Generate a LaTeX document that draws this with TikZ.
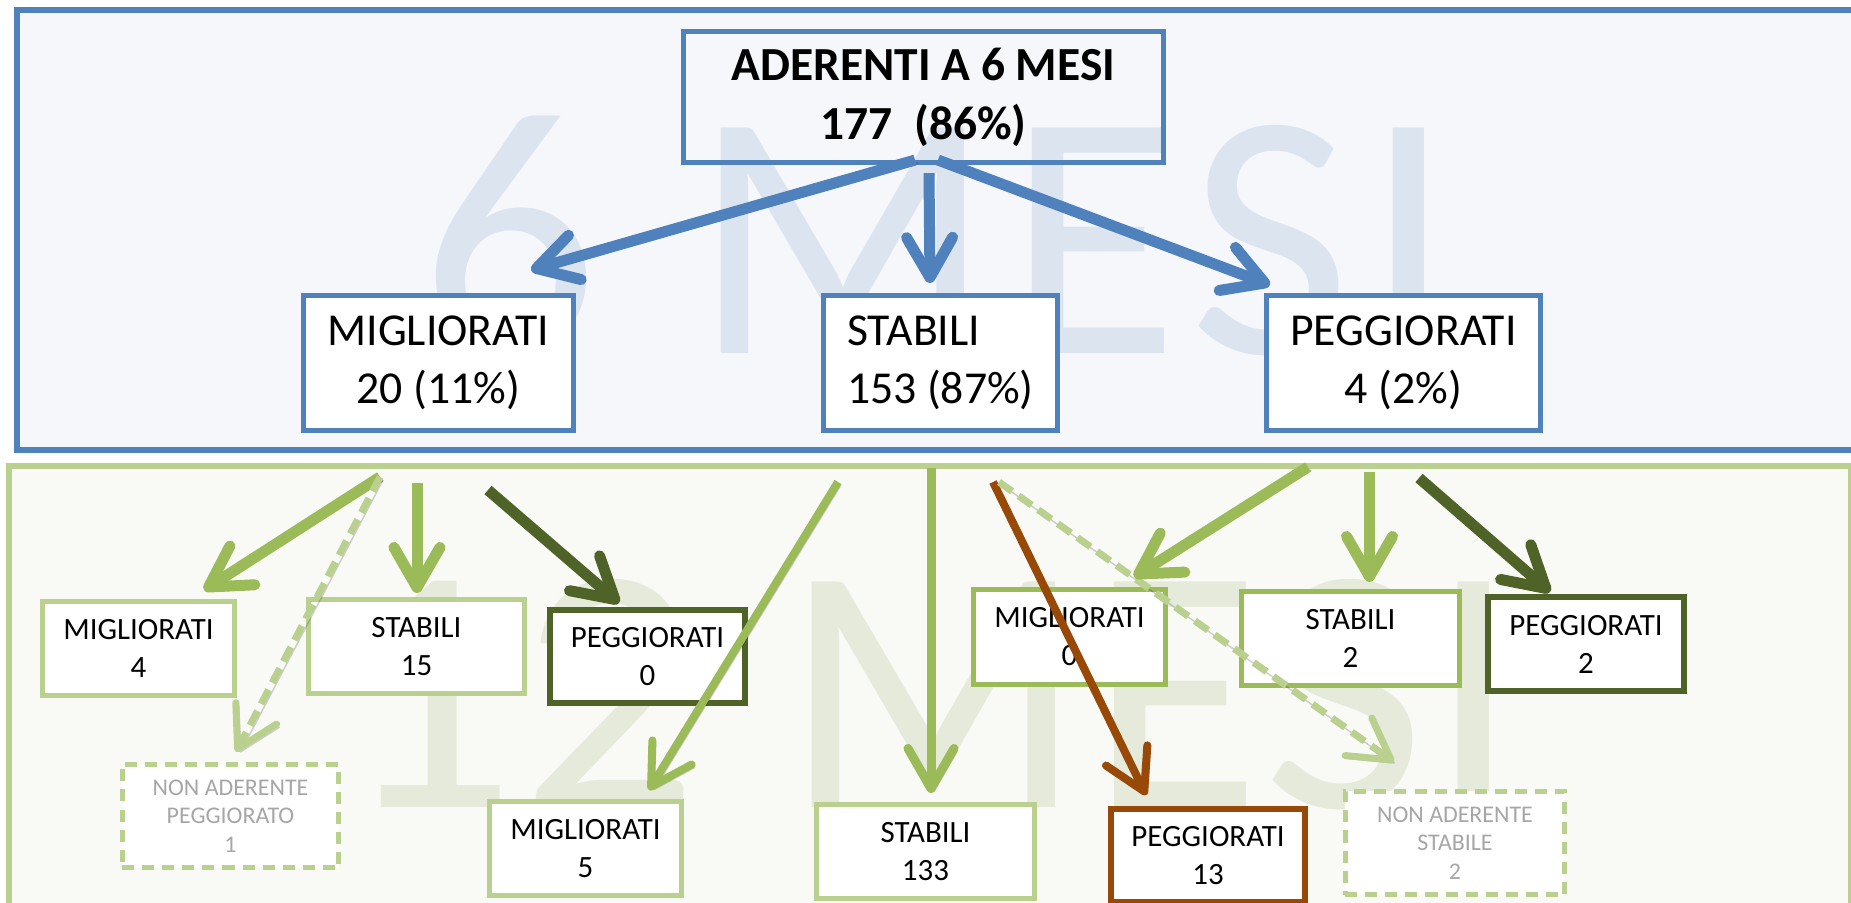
\documentclass[tikz,border=0pt]{standalone}
\usepackage{fontspec}
\setmainfont{Carlito}
\usetikzlibrary{arrows.meta,calc}
\definecolor{cblue}{HTML}{4F81BD}
\definecolor{cbluebg}{HTML}{F5F7FB}
\definecolor{cbluewm}{HTML}{DCE4EF}
\definecolor{cgreen}{HTML}{9BBB59}
\definecolor{clight}{HTML}{B9D08E}
\definecolor{cgreenbg}{HTML}{F9FAF6}
\definecolor{cgreenwm}{HTML}{E5EADA}
\definecolor{cdark}{HTML}{4F6228}
\definecolor{cbrown}{HTML}{984807}
\definecolor{cgrey}{HTML}{A6A6A6}
\newfontfamily\wmfont[LetterSpace=4]{Carlito}
\newfontfamily\wmfontb[LetterSpace=1.5]{Carlito}
\tikzset{>={Straight Barb[length=4mm,width=4.6mm,round]}}
\tikzset{
  box/.style={draw, fill=white, outer sep=0pt, inner sep=0pt, align=center, line width=0.05cm},
  topbox/.style={box, draw=cblue, font=\fontsize{13}{16.5}\selectfont},
  lowbox/.style={box, draw=clight, font=\fontsize{8.8}{10.8}\selectfont},
  midbox/.style={lowbox, draw=cgreen},
  darkbox/.style={lowbox, draw=cdark, line width=0.06cm},
  brownbox/.style={lowbox, draw=cbrown, line width=0.06cm},
  nabox/.style={lowbox, dashed, dash pattern=on 0.12cm off 0.08cm, text=cgrey, font=\fontsize{6.8}{8.1}\selectfont},
  wm/.style={anchor=base, inner sep=0pt, font=\wmfont\fontsize{100}{100}\selectfont},
  arr/.style={->, line width=0.11cm, preaction={draw=black, opacity=0.18, transform canvas={shift={(0.03cm,-0.03cm)}}}},
  arrthin/.style={arr, line width=0.08cm},
  arrdash/.style={arr, line width=0.07cm, dash pattern=on 0.16cm off 0.08cm},
}

\begin{document}
\begin{tikzpicture}[x=0.01cm,y=-0.01cm]
  \useasboundingbox (0,0) rectangle (1851,902);
  \clip (0,0) rectangle (1851,902);
  \fill[white] (0,0) rectangle (1851,902);
  \draw[line width=0.06cm, draw=cblue, fill=cbluebg] (17,10) rectangle (1880,450);
  \draw[line width=0.06cm, draw=clight, fill=cgreenbg] (9,466) rectangle (1851,940);
  \node[wm, text=cbluewm] (wm6) at (937,353) {6 MESI};
  \node[wm, text=cgreenwm, font=\wmfontb\fontsize{100}{100}\selectfont] (wm12) at (928,807) {12 MESI};

  % 6 mesi
  \node[topbox, fill=none, minimum width=4.8cm, minimum height=1.31cm, font=\fontsize{13.5}{16.8}\selectfont\bfseries] (ader) at (923.5,97) {ADERENTI A 6 MESI\\177\ \ (86\%)};
  \node[topbox, minimum width=2.7cm, minimum height=1.35cm] (mig6) at (438.5,363) {MIGLIORATI\\20 (11\%)};
  \node[topbox, align=left, minimum width=2.34cm, minimum height=1.35cm] (sta6) at (940.5,363) {STABILI\\153 (87\%)};
  \node[topbox, minimum width=2.74cm, minimum height=1.35cm] (peg6) at (1403.5,363) {PEGGIORATI\\4 (2\%)};

  % 12 mesi
  \node[lowbox, minimum width=1.92cm, minimum height=0.94cm] (m4) at (138.5,648.5) {MIGLIORATI\\4};
  \node[lowbox, minimum width=2.16cm, minimum height=0.94cm] (s15) at (416.5,646.5) {STABILI\\15};
  \node[darkbox, minimum width=1.95cm, minimum height=0.93cm] (p0) at (647.5,656.5) {PEGGIORATI\\0};
  \node[nabox, minimum width=2.16cm, minimum height=1.03cm] (na1) at (230.5,816) {NON ADERENTE\\PEGGIORATO\\1};
  \node[lowbox, minimum width=1.92cm, minimum height=0.94cm] (m5) at (585.5,848.5) {MIGLIORATI\\5};
  \node[lowbox, minimum width=2.18cm, minimum height=0.94cm] (s133) at (925.5,851.5) {STABILI\\133};
  \node[brownbox, minimum width=1.94cm, minimum height=0.93cm] (p13) at (1208,855.5) {PEGGIORATI\\13};
  \node[nabox, minimum width=2.19cm, minimum height=1.03cm] (na2) at (1455,843) {NON ADERENTE\\STABILE\\2};
  \node[midbox, minimum width=1.92cm, minimum height=0.95cm] (m0) at (1069.5,637) {MIGLIORATI\\0};
  \node[midbox, minimum width=2.18cm, minimum height=0.94cm] (s2) at (1350.5,638.5) {STABILI\\2};
  \node[darkbox, minimum width=1.96cm, minimum height=0.94cm] (p2) at (1586,644) {PEGGIORATI\\2};

  \coordinate (mgA) at (380,477);
  \coordinate (mgB) at (417,483);
  \coordinate (mgC) at (488,490);
  \coordinate (stA) at (838,482);
  \coordinate (stB) at (931,468);
  \coordinate (stC) at (993,482);
  \coordinate (stD) at (999,482);
  \coordinate (pgA) at (1308,467);
  \coordinate (pgB) at (1369.5,472);
  \coordinate (pgC) at (1419,478);

  \draw[arr, cblue] ($(ader.south)+(-8.5,-2.5)$) -- ($(mig6.north east)+(-42.5,-25.5)$);
  \draw[arr, cblue] ($(ader.south)+(5.5,10.5)$) -- ($(sta6.north)+(-10.5,-12.5)$);
  \draw[arr, cblue] ($(ader.south)+(14.5,-2.5)$) -- ($(peg6.north west)+(3.5,-10.5)$);

  \draw[arr, cgreen] (mgA) -- ($(m4.north east)+(-30.5,-11.5)$);
  \draw[arrdash, clight] (mgA) -- ($(na1.north)+(5.5,-12.5)$);
  \draw[arr, cgreen] (mgB) -- ($(s15.north)+(0.5,-6.5)$);
  \draw[arr, cdark] (mgC) -- ($(p0.north)+(-28.5,-7)$);
  \draw[arrthin, cgreen] (stA) -- ($(m5.north)+(63.5,-11.5)$);
  \draw[arrthin, cgreen, line width=0.09cm] (stB) -- ($(s133.north)+(5.5,-11.5)$);
  \draw[arrthin, cbrown] (stC) -- ($(p13.north)+(-62,-14)$);
  \draw[arrdash, clight] (stD) -- ($(na2.north)+(-61,-29.5)$);
  \draw[arr, cgreen] (pgA) -- ($(m0.north east)+(-31.5,-12.5)$);
  \draw[arr, cgreen] (pgB) -- ($(s2.north)+(19,-9.5)$);
  \draw[arr, cdark] (pgC) -- ($(p2.north)+(-36,-5)$);
\end{tikzpicture}
\end{document}
